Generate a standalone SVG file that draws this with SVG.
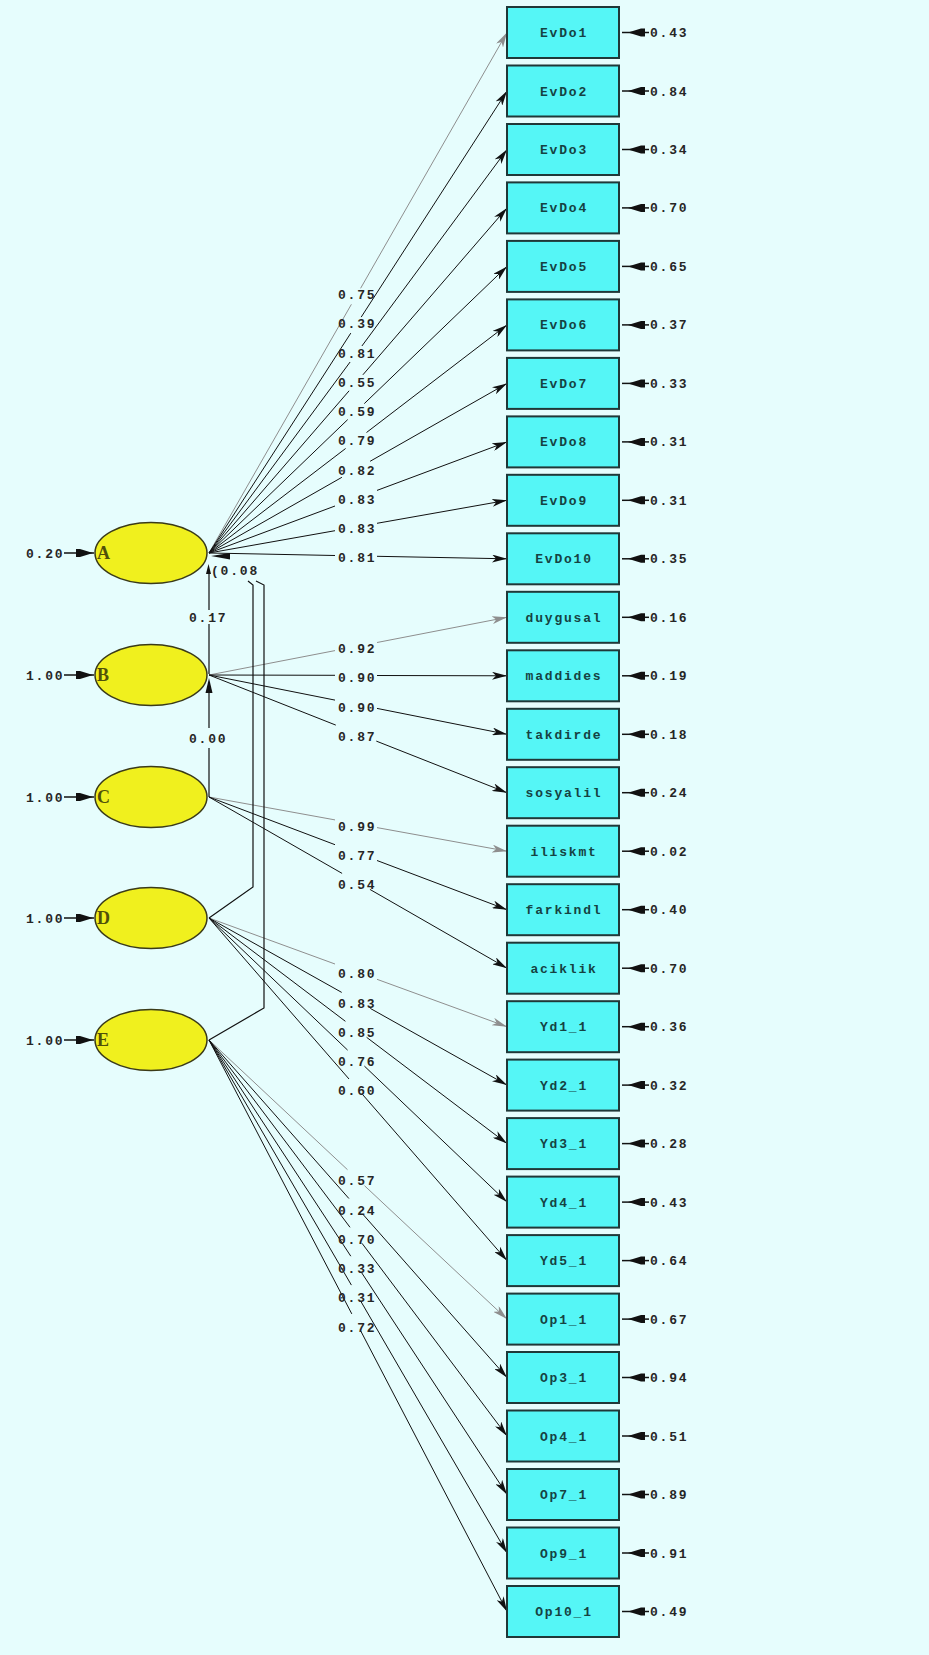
<svg xmlns="http://www.w3.org/2000/svg" xmlns:xlink="http://www.w3.org/1999/xlink" width="929" height="1655" viewBox="0 0 929 1655">
<style>
.box{fill:#55F6F6;stroke:#1F3838;stroke-width:2}
.ell{fill:#F0F01E;stroke:#3A3A18;stroke-width:1.5}
.t{font-family:"Liberation Mono",monospace;font-size:13px;font-weight:bold;letter-spacing:1.8px;fill:#262626}
.bl{font-family:"Liberation Mono",monospace;font-size:13px;font-weight:bold;letter-spacing:1.8px;fill:#154242;text-anchor:middle}
.lt{font-family:"Liberation Serif",serif;font-size:18px;font-weight:bold;fill:#50500A}
.lk{fill:none;stroke:#111;stroke-width:1;marker-end:url(#ah)}
.lg{fill:none;stroke:#8E8E8E;stroke-width:1;marker-end:url(#ahg)}
.cv{fill:none;stroke:#111;stroke-width:1.2}
.hd{fill:#111}
</style>
<defs>
<marker id="ah" viewBox="0 0 15 8" refX="15" refY="4" markerWidth="15" markerHeight="8" markerUnits="userSpaceOnUse" orient="auto"><path d="M0,0 L15,4 L0,8 L4,4 Z" fill="#111"/></marker>
<marker id="ahg" viewBox="0 0 15 8" refX="15" refY="4" markerWidth="15" markerHeight="8" markerUnits="userSpaceOnUse" orient="auto"><path d="M0,0 L15,4 L0,8 L4,4 Z" fill="#8E8E8E"/></marker>
<g id="er"><line x1="622" y1="0" x2="649" y2="0" stroke="#111" stroke-width="1.5"/><path d="M628,0 L641,-4 L645,-4 L645,4 L641,4 Z" fill="#111"/></g>
<g id="el"><line x1="64" y1="0" x2="94" y2="0" stroke="#111" stroke-width="1.5"/><path d="M93,0 L80,-4 L76,-4 L76,4 L80,4 Z" fill="#111"/></g>
</defs>
<rect x="0" y="0" width="929" height="1655" fill="#E6FDFD"/>

<g id="connectors">
<path class="lg" d="M209,553 L351.4,304.3 M360.6,288.3 L507,32.5"/>
<path class="lk" d="M209,553 L350.8,333.1 M361.2,317.1 L507,91"/>
<path class="lk" d="M209,553 L350.1,362 M361.9,346 L507,149.5"/>
<path class="lk" d="M209,553 L349.1,390.8 M362.9,374.8 L507,207.9"/>
<path class="lk" d="M209,553 L347.7,419.6 M364.3,403.6 L507,266.4"/>
<path class="lk" d="M209,553 L345.6,448.5 M366.5,432.5 L507,324.9"/>
<path class="lk" d="M209,553 L341.9,477.3 M370.1,461.3 L507,383.4"/>
<path class="lk" d="M209,553 L335,506 M377,490.4 L507,441.9"/>
<path class="lk" d="M209,553 L335,530.7 M377,523.3 L507,500.3"/>
<path class="lk" d="M209,553 L335,555.5 M377,556.3 L507,558.8"/>

<path class="lg" d="M209,675 L335,650.6 M377,642.5 L507,617.3"/>
<path class="lk" d="M209,675 L335,675.3 M377,675.5 L507,675.8"/>
<path class="lk" d="M209,675 L335,700.1 M377,708.4 L507,734.3"/>
<path class="lk" d="M209,675 L335.8,725.1 M376.3,741.1 L507,792.7"/>

<path class="lg" d="M209,797 L335,819.9 M377,827.6 L507,851.2"/>
<path class="lk" d="M209,797 L335,844.7 M377,860.5 L507,909.7"/>
<path class="lk" d="M209,797 L342.1,873.4 M369.9,889.4 L507,968.2"/>

<path class="lg" d="M209,918 L335,964 M377,979.3 L507,1026.7"/>
<path class="lk" d="M209,918 L341.7,992.4 M370.3,1008.4 L507,1085.1"/>
<path class="lk" d="M209,918 L345.4,1021.3 M366.6,1037.3 L507,1143.6"/>
<path class="lk" d="M209,918 L347.6,1050.1 M364.4,1066.1 L507,1202.1"/>
<path class="lk" d="M209,918 L349,1079 M363,1095 L507,1260.6"/>

<path class="lg" d="M209,1040 L347.5,1169.7 M364.5,1185.7 L507,1319.1"/>
<path class="lk" d="M209,1040 L348.9,1198.5 M363.1,1214.5 L507,1377.5"/>
<path class="lk" d="M209,1040 L350,1227.3 M362,1243.3 L507,1436"/>
<path class="lk" d="M209,1040 L350.8,1256.2 M361.3,1272.2 L507,1494.5"/>
<path class="lk" d="M209,1040 L351.4,1285.1 M360.7,1301.1 L507,1553"/>
<path class="lk" d="M209,1040 L351.8,1313.9 M360.2,1329.9 L507,1611.5"/>

<path class="cv" d="M209,574 V610 M209,624 V674"/>
<path class="hd" d="M208.5,564 L211,574 L206,574 Z"/>
<path class="cv" d="M209,693 V728 M209,748 V797"/>
<path class="hd" d="M209,678 L212.5,693 L205.5,693 Z"/>
<path class="cv" d="M248,581 L253,585 V887 L209,918"/>
<path class="cv" d="M256,581 L264,585 V1008 L209,1040"/>
<path class="hd" d="M211,556 L230,553 L230,559.5 Z"/>

<use xlink:href="#er" y="32.5"/><use xlink:href="#er" y="91"/><use xlink:href="#er" y="149.5"/><use xlink:href="#er" y="207.9"/>
<use xlink:href="#er" y="266.4"/><use xlink:href="#er" y="324.9"/><use xlink:href="#er" y="383.4"/><use xlink:href="#er" y="441.9"/>
<use xlink:href="#er" y="500.3"/><use xlink:href="#er" y="558.8"/><use xlink:href="#er" y="617.3"/><use xlink:href="#er" y="675.8"/>
<use xlink:href="#er" y="734.3"/><use xlink:href="#er" y="792.7"/><use xlink:href="#er" y="851.2"/><use xlink:href="#er" y="909.7"/>
<use xlink:href="#er" y="968.2"/><use xlink:href="#er" y="1026.7"/><use xlink:href="#er" y="1085.1"/><use xlink:href="#er" y="1143.6"/>
<use xlink:href="#er" y="1202.1"/><use xlink:href="#er" y="1260.6"/><use xlink:href="#er" y="1319.1"/><use xlink:href="#er" y="1377.5"/>
<use xlink:href="#er" y="1436"/><use xlink:href="#er" y="1494.5"/><use xlink:href="#er" y="1553"/><use xlink:href="#er" y="1611.5"/>
<use xlink:href="#el" y="553"/><use xlink:href="#el" y="675"/><use xlink:href="#el" y="797"/><use xlink:href="#el" y="918"/><use xlink:href="#el" y="1040"/>

<g class="t">
<text x="338" y="298.5">0.75</text><text x="338" y="327.5">0.39</text><text x="338" y="357.5">0.81</text><text x="338" y="386.5">0.55</text><text x="338" y="415.5">0.59</text>
<text x="338" y="444.5">0.79</text><text x="338" y="474.5">0.82</text><text x="338" y="503.5">0.83</text><text x="338" y="532.5">0.83</text><text x="338" y="561.5">0.81</text>
<text x="338" y="652.5">0.92</text><text x="338" y="681.5">0.90</text><text x="338" y="711.5">0.90</text><text x="338" y="740.5">0.87</text>
<text x="338" y="830.5">0.99</text><text x="338" y="859.5">0.77</text><text x="338" y="888.5">0.54</text>
<text x="338" y="977.5">0.80</text><text x="338" y="1007.5">0.83</text><text x="338" y="1036.5">0.85</text><text x="338" y="1065.5">0.76</text><text x="338" y="1094.5">0.60</text>
<text x="338" y="1184.5">0.57</text><text x="338" y="1214.5">0.24</text><text x="338" y="1243.5">0.70</text><text x="338" y="1272.5">0.33</text><text x="338" y="1301.5">0.31</text><text x="338" y="1331.5">0.72</text>
<text x="189" y="621.5">0.17</text><text x="189" y="742.5">0.00</text><text x="211" y="574.5">(0.08</text>
</g>
</g>

<g id="A"><ellipse class="ell" cx="151" cy="553" rx="56" ry="30.5"/><text class="lt" x="97" y="559">A</text><text class="t" x="26" y="557.5">0.20</text></g>
<g id="B"><ellipse class="ell" cx="151" cy="675" rx="56" ry="30.5"/><text class="lt" x="97" y="681">B</text><text class="t" x="26" y="679.5">1.00</text></g>
<g id="C"><ellipse class="ell" cx="151" cy="797" rx="56" ry="30.5"/><text class="lt" x="97" y="803">C</text><text class="t" x="26" y="801.5">1.00</text></g>
<g id="D"><ellipse class="ell" cx="151" cy="918" rx="56" ry="30.5"/><text class="lt" x="97" y="924">D</text><text class="t" x="26" y="922.5">1.00</text></g>
<g id="E"><ellipse class="ell" cx="151" cy="1040" rx="56" ry="30.5"/><text class="lt" x="97" y="1046">E</text><text class="t" x="26" y="1044.5">1.00</text></g>

<g id="EvDo1"><rect class="box" x="507" y="7" width="112" height="51"/><text class="bl" x="564" y="37">EvDo1</text><text class="t" x="650" y="37">0.43</text></g>
<g id="EvDo2"><rect class="box" x="507" y="65.5" width="112" height="51"/><text class="bl" x="564" y="95.5">EvDo2</text><text class="t" x="650" y="95.5">0.84</text></g>
<g id="EvDo3"><rect class="box" x="507" y="124" width="112" height="51"/><text class="bl" x="564" y="154">EvDo3</text><text class="t" x="650" y="154">0.34</text></g>
<g id="EvDo4"><rect class="box" x="507" y="182.4" width="112" height="51"/><text class="bl" x="564" y="212.4">EvDo4</text><text class="t" x="650" y="212.4">0.70</text></g>
<g id="EvDo5"><rect class="box" x="507" y="240.9" width="112" height="51"/><text class="bl" x="564" y="270.9">EvDo5</text><text class="t" x="650" y="270.9">0.65</text></g>
<g id="EvDo6"><rect class="box" x="507" y="299.4" width="112" height="51"/><text class="bl" x="564" y="329.4">EvDo6</text><text class="t" x="650" y="329.4">0.37</text></g>
<g id="EvDo7"><rect class="box" x="507" y="357.9" width="112" height="51"/><text class="bl" x="564" y="387.9">EvDo7</text><text class="t" x="650" y="387.9">0.33</text></g>
<g id="EvDo8"><rect class="box" x="507" y="416.4" width="112" height="51"/><text class="bl" x="564" y="446.4">EvDo8</text><text class="t" x="650" y="446.4">0.31</text></g>
<g id="EvDo9"><rect class="box" x="507" y="474.8" width="112" height="51"/><text class="bl" x="564" y="504.8">EvDo9</text><text class="t" x="650" y="504.8">0.31</text></g>
<g id="EvDo10"><rect class="box" x="507" y="533.3" width="112" height="51"/><text class="bl" x="564" y="563.3">EvDo10</text><text class="t" x="650" y="563.3">0.35</text></g>
<g id="duygusal"><rect class="box" x="507" y="591.8" width="112" height="51"/><text class="bl" x="564" y="621.8">duygusal</text><text class="t" x="650" y="621.8">0.16</text></g>
<g id="maddides"><rect class="box" x="507" y="650.3" width="112" height="51"/><text class="bl" x="564" y="680.3">maddides</text><text class="t" x="650" y="680.3">0.19</text></g>
<g id="takdirde"><rect class="box" x="507" y="708.8" width="112" height="51"/><text class="bl" x="564" y="738.8">takdirde</text><text class="t" x="650" y="738.8">0.18</text></g>
<g id="sosyalil"><rect class="box" x="507" y="767.2" width="112" height="51"/><text class="bl" x="564" y="797.2">sosyalil</text><text class="t" x="650" y="797.2">0.24</text></g>
<g id="iliskmt"><rect class="box" x="507" y="825.7" width="112" height="51"/><text class="bl" x="564" y="855.7">iliskmt</text><text class="t" x="650" y="855.7">0.02</text></g>
<g id="farkindl"><rect class="box" x="507" y="884.2" width="112" height="51"/><text class="bl" x="564" y="914.2">farkindl</text><text class="t" x="650" y="914.2">0.40</text></g>
<g id="aciklik"><rect class="box" x="507" y="942.7" width="112" height="51"/><text class="bl" x="564" y="972.7">aciklik</text><text class="t" x="650" y="972.7">0.70</text></g>
<g id="Yd1_1"><rect class="box" x="507" y="1001.2" width="112" height="51"/><text class="bl" x="564" y="1031.2">Yd1_1</text><text class="t" x="650" y="1031.2">0.36</text></g>
<g id="Yd2_1"><rect class="box" x="507" y="1059.6" width="112" height="51"/><text class="bl" x="564" y="1089.6">Yd2_1</text><text class="t" x="650" y="1089.6">0.32</text></g>
<g id="Yd3_1"><rect class="box" x="507" y="1118.1" width="112" height="51"/><text class="bl" x="564" y="1148.1">Yd3_1</text><text class="t" x="650" y="1148.1">0.28</text></g>
<g id="Yd4_1"><rect class="box" x="507" y="1176.6" width="112" height="51"/><text class="bl" x="564" y="1206.6">Yd4_1</text><text class="t" x="650" y="1206.6">0.43</text></g>
<g id="Yd5_1"><rect class="box" x="507" y="1235.1" width="112" height="51"/><text class="bl" x="564" y="1265.1">Yd5_1</text><text class="t" x="650" y="1265.1">0.64</text></g>
<g id="Op1_1"><rect class="box" x="507" y="1293.6" width="112" height="51"/><text class="bl" x="564" y="1323.6">Op1_1</text><text class="t" x="650" y="1323.6">0.67</text></g>
<g id="Op3_1"><rect class="box" x="507" y="1352" width="112" height="51"/><text class="bl" x="564" y="1382">Op3_1</text><text class="t" x="650" y="1382">0.94</text></g>
<g id="Op4_1"><rect class="box" x="507" y="1410.5" width="112" height="51"/><text class="bl" x="564" y="1440.5">Op4_1</text><text class="t" x="650" y="1440.5">0.51</text></g>
<g id="Op7_1"><rect class="box" x="507" y="1469" width="112" height="51"/><text class="bl" x="564" y="1499">Op7_1</text><text class="t" x="650" y="1499">0.89</text></g>
<g id="Op9_1"><rect class="box" x="507" y="1527.5" width="112" height="51"/><text class="bl" x="564" y="1557.5">Op9_1</text><text class="t" x="650" y="1557.5">0.91</text></g>
<g id="Op10_1"><rect class="box" x="507" y="1586" width="112" height="51"/><text class="bl" x="564" y="1616">Op10_1</text><text class="t" x="650" y="1616">0.49</text></g>
</svg>
